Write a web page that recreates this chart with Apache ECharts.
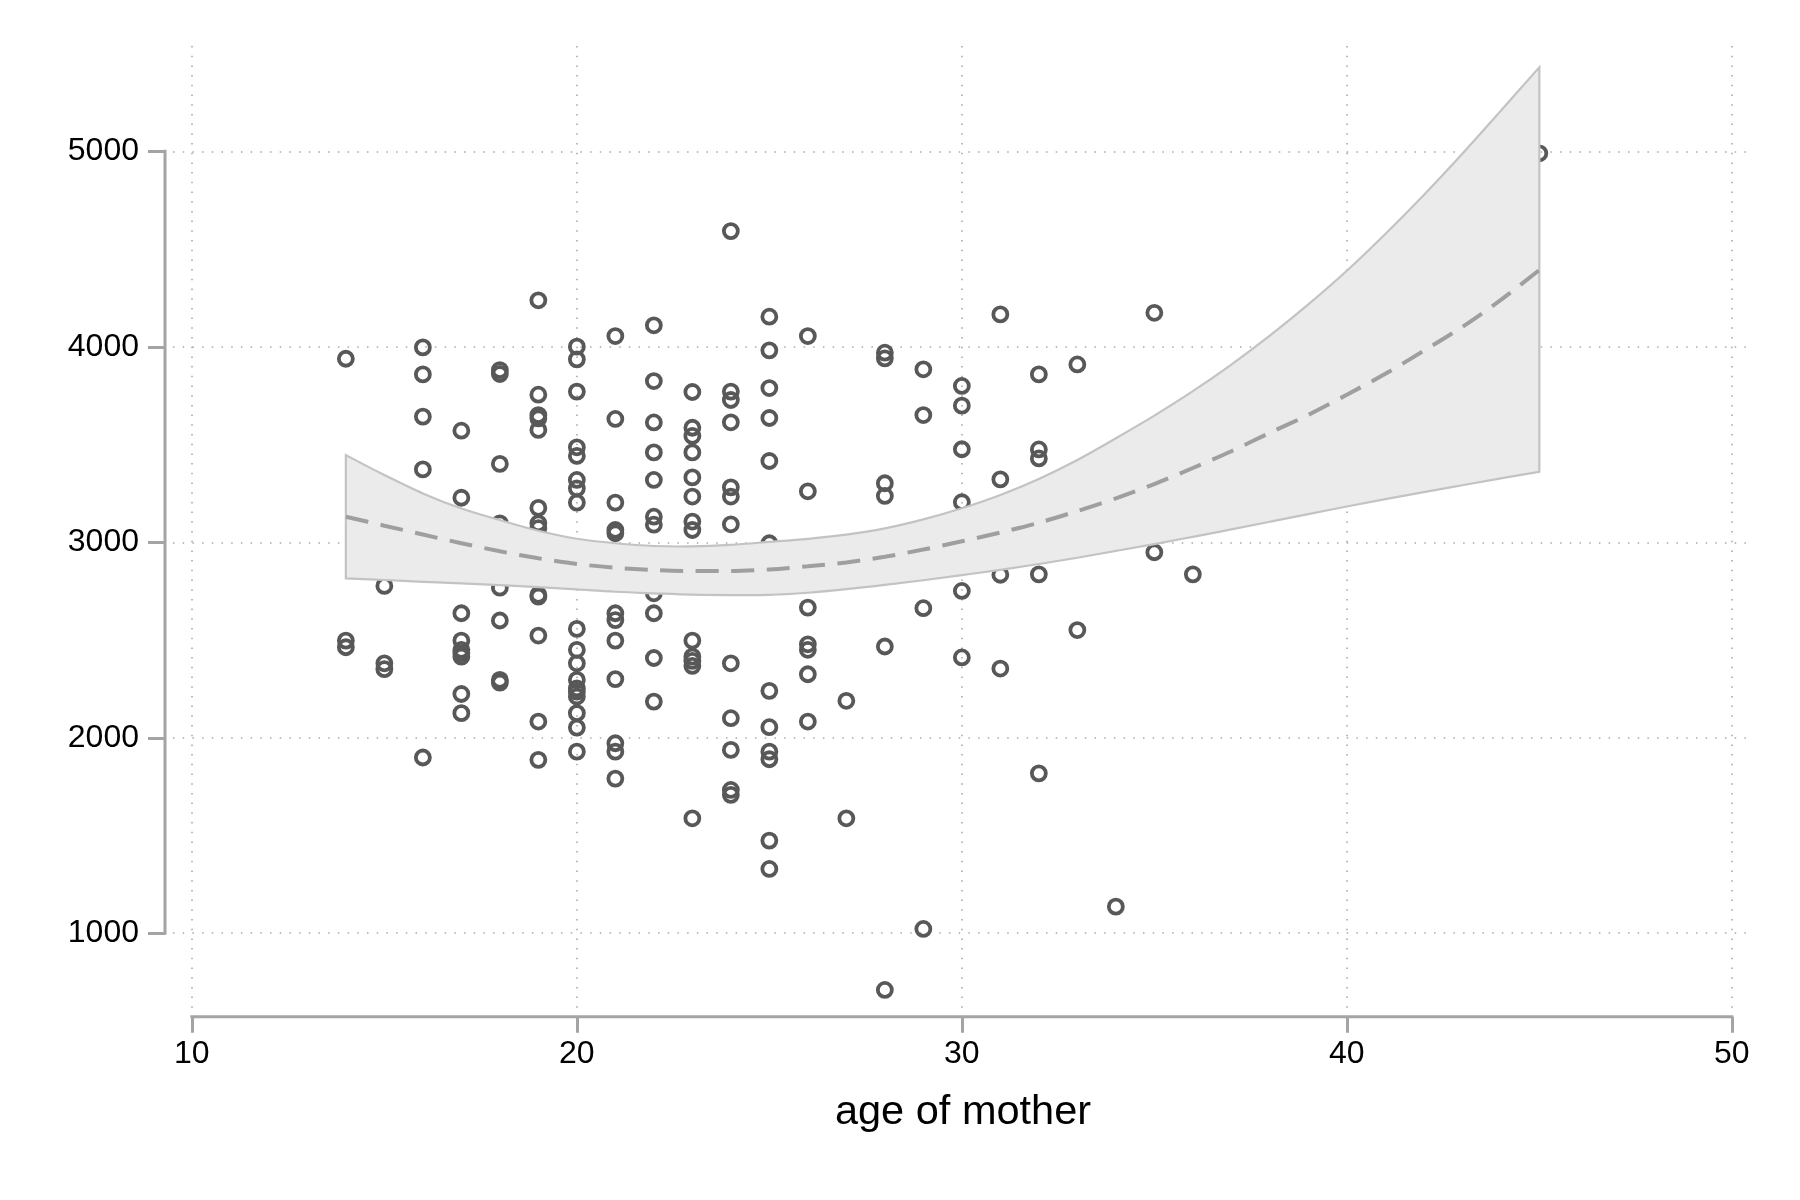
<!DOCTYPE html>
<html>
<head>
<meta charset="utf-8">
<script src="https://cdn.jsdelivr.net/npm/echarts@6/dist/echarts.min.js"></script>
<style>
html, body { margin: 0; padding: 0; background: #ffffff; }
#chart { width: 1800px; height: 1200px; }
</style>
</head>
<body>
<div id="chart"></div>
<script>
// ---- tick labels / titles ----
const xTicks = [10, 20, 30, 40, 50];
const yTicks = [1000, 2000, 3000, 4000, 5000];
const xTitle = 'age of mother';

// ---- observed points (birth weight by age of mother) ----
const scatterAges = [14, 15, 16, 17, 18, 19, 20, 21, 22, 23, 24, 25, 26, 27, 28, 29, 30, 31, 32, 33, 34, 35, 36, 45];
const scatterWeights = [
  [3939, 2497, 2463],
  [2777, 2381, 2351],
  [3997, 3859, 3643, 3373, 1899],
  [3571, 3228, 2637, 2497, 2450, 2433, 2415, 2224, 2126],
  [3881, 3861, 3401, 3097, 2768, 2600, 2296, 2282],
  [4238, 3755, 3651, 3634, 3575, 3176, 3097, 3072, 2731, 2722, 2523, 2083, 1887],
  [4001, 3936, 3771, 3486, 3442, 3319, 3276, 3203, 2557, 2450, 2381, 2296, 2253, 2236, 2211, 2126, 2052, 1929],
  [4055, 3631, 3203, 3063, 3046, 2637, 2602, 2497, 2300, 1972, 1929, 1791],
  [4110, 3825, 3613, 3460, 3319, 3131, 3090, 2739, 2637, 2408, 2185],
  [3769, 3586, 3544, 3460, 3332, 3234, 3106, 3063, 2497, 2415, 2393, 2368, 1588],
  [4592, 3771, 3728, 3614, 3281, 3234, 3092, 2381, 2100, 1938, 1733, 1708],
  [4154, 3982, 3789, 3636, 3416, 2995, 2240, 2054, 1929, 1890, 1474, 1329],
  [4055, 3261, 2666, 2478, 2450, 2325, 2083],
  [2189, 1588],
  [3970, 3941, 3302, 3237, 2467, 710],
  [3885, 3651, 2663, 1022],
  [3800, 3699, 3476, 3205, 2751, 2411],
  [4166, 3322, 2834, 2354],
  [3859, 3475, 3429, 2836, 1818],
  [3910, 2551],
  [1136],
  [4174, 2949],
  [2836],
  [4990]
];

// ---- quadratic fit with confidence band ----
const fitAges  = [14, 15, 16, 17, 18, 19, 20, 21, 22, 23, 24, 25, 26, 27, 28, 29, 30, 31, 32, 33, 34, 35, 36, 37, 38, 39, 40, 41, 42, 43, 44, 45];
const fitLine  = [3131, 3085, 3040, 2995, 2954, 2918, 2889, 2870, 2858, 2853, 2853, 2861, 2877, 2897, 2926, 2963, 3005, 3050, 3100, 3160, 3225, 3298, 3380, 3466, 3560, 3652, 3755, 3862, 3980, 4102, 4240, 4393];
const fitUpper = [3446, 3344, 3250, 3173, 3114, 3059, 3018, 2995, 2981, 2979, 2987, 3002, 3018, 3039, 3071, 3117, 3174, 3242, 3324, 3421, 3532, 3648, 3773, 3909, 4057, 4217, 4389, 4577, 4777, 4988, 5208, 5430];
const fitLower = [2815, 2807, 2798, 2790, 2781, 2771, 2759, 2747, 2739, 2732, 2730, 2731, 2742, 2760, 2782, 2806, 2832, 2859, 2889, 2921, 2956, 2991, 3028, 3066, 3105, 3144, 3183, 3221, 3257, 3292, 3327, 3361];

// ---- build series data ----
const points = [];
scatterAges.forEach(function (a, i) {
  scatterWeights[i].forEach(function (w) { points.push([a, w]); });
});
const fitData = fitAges.map(function (a, i) { return [a, fitLine[i]]; });

const FONT = "'Liberation Sans', Arial, Helvetica, sans-serif";
const AXIS_COLOR = '#a4a4a4';
const X_MIN = 9.51, X_MAX = 50.55;
const Y_MIN = 573, Y_MAX = 5539;
const Y_OFFSET = 8;

// Catmull-Rom -> cubic bezier path segments through pixel points
function splineSegments(pts) {
  let d = '';
  for (let i = 0; i < pts.length - 1; i++) {
    const p0 = pts[i - 1] || pts[i];
    const p1 = pts[i];
    const p2 = pts[i + 1];
    const p3 = pts[i + 2] || p2;
    const c1x = p1[0] + (p2[0] - p0[0]) / 6, c1y = p1[1] + (p2[1] - p0[1]) / 6;
    const c2x = p2[0] - (p3[0] - p1[0]) / 6, c2y = p2[1] - (p3[1] - p1[1]) / 6;
    d += ' C' + c1x.toFixed(2) + ',' + c1y.toFixed(2) + ' ' + c2x.toFixed(2) + ',' + c2y.toFixed(2) + ' ' + p2[0].toFixed(2) + ',' + p2[1].toFixed(2);
  }
  return d;
}

const chart = echarts.init(document.getElementById('chart'), null, { renderer: 'canvas' });

const option = {
  backgroundColor: '#ffffff',
  animation: false,
  grid: {
    left: 173, right: 47, top: 46, bottom: 183.3,
    containLabel: false,
    outerBoundsMode: 'none'
  },
  xAxis: {
    type: 'value',
    min: X_MIN, max: X_MAX,
    name: xTitle,
    nameLocation: 'middle',
    nameGap: 75,
    nameTextStyle: { fontFamily: FONT, fontSize: 41.5, color: '#000000' },
    axisLine: { show: false },
    axisTick: { show: true, customValues: xTicks, length: 16, inside: false,
                lineStyle: { color: AXIS_COLOR, width: 3 } },
    axisLabel: { show: true, customValues: xTicks, margin: 21,
                 fontFamily: FONT, fontSize: 32, color: '#000000',
                 formatter: function (v) { return String(v); } },
    splitLine: { show: true, lineStyle: { color: '#a8a8a8', width: 1.6, type: [1.5, 8.2] } }
  },
  yAxis: {
    type: 'value',
    min: Y_MIN, max: Y_MAX,
    offset: Y_OFFSET,
    axisLine: { show: false },
    axisTick: { show: true, customValues: yTicks, length: 17, inside: false,
                lineStyle: { color: AXIS_COLOR, width: 3 } },
    axisLabel: { show: true, customValues: yTicks, margin: 26,
                 fontFamily: FONT, fontSize: 32, color: '#000000',
                 formatter: function (v) { return String(v); } },
    splitLine: { show: true, lineStyle: { color: '#a8a8a8', width: 1.6, type: [1.5, 8.2] } }
  },
  series: [
    {
      name: 'birthweight',
      type: 'scatter',
      data: points,
      symbol: 'circle',
      symbolSize: 14,
      z: 2,
      itemStyle: { color: 'rgba(255,255,255,0)', borderColor: '#585858', borderWidth: 3.8, opacity: 1 },
      emphasis: { disabled: true }
    },
    {
      name: '95% CI',
      type: 'custom',
      z: 3,
      silent: true,
      data: [[fitAges[0], fitLower[0]]],
      renderItem: function (params, api) {
        const up = [], low = [];
        for (let i = 0; i < fitAges.length; i++) {
          up.push(api.coord([fitAges[i], fitUpper[i]]));
          low.push(api.coord([fitAges[i], fitLower[i]]));
        }
        low.reverse();
        let d = 'M' + up[0][0].toFixed(2) + ',' + up[0][1].toFixed(2);
        d += splineSegments(up);
        d += ' L' + low[0][0].toFixed(2) + ',' + low[0][1].toFixed(2);
        d += splineSegments(low);
        d += ' Z';
        return {
          type: 'path',
          shape: { pathData: d },
          style: { fill: '#ebebeb', stroke: '#c3c3c3', lineWidth: 2.2, lineJoin: 'miter' }
        };
      }
    },
    {
      name: 'Fitted values',
      type: 'line',
      data: fitData,
      z: 4,
      smooth: 0.3,
      symbol: 'none',
      showSymbol: false,
      silent: true,
      lineStyle: { color: '#9f9f9f', width: 4, type: [23, 12.5] }
    }
  ]
};

chart.setOption(option);

// Stata-style axis lines spanning only the labelled range
function drawAxisLines() {
  const yTop = chart.convertToPixel({ yAxisIndex: 0 }, yTicks[yTicks.length - 1]);
  const yBot = chart.convertToPixel({ yAxisIndex: 0 }, yTicks[0]);
  const gridLeftPx = chart.convertToPixel({ xAxisIndex: 0 }, X_MIN);
  const xLeft = chart.convertToPixel({ xAxisIndex: 0 }, xTicks[0]);
  const xRight = chart.convertToPixel({ xAxisIndex: 0 }, xTicks[xTicks.length - 1]);
  const gridBottomPx = chart.convertToPixel({ yAxisIndex: 0 }, Y_MIN);
  const yAxisX = gridLeftPx - Y_OFFSET;
  chart.setOption({
    graphic: [
      { type: 'line', silent: true, z: 10,
        shape: { x1: yAxisX, y1: yTop, x2: yAxisX, y2: yBot },
        style: { stroke: AXIS_COLOR, lineWidth: 3, lineCap: 'square' } },
      { type: 'line', silent: true, z: 10,
        shape: { x1: xLeft, y1: gridBottomPx, x2: xRight, y2: gridBottomPx },
        style: { stroke: AXIS_COLOR, lineWidth: 3, lineCap: 'square' } }
    ]
  });
}
drawAxisLines();
</script>
</body>
</html>
